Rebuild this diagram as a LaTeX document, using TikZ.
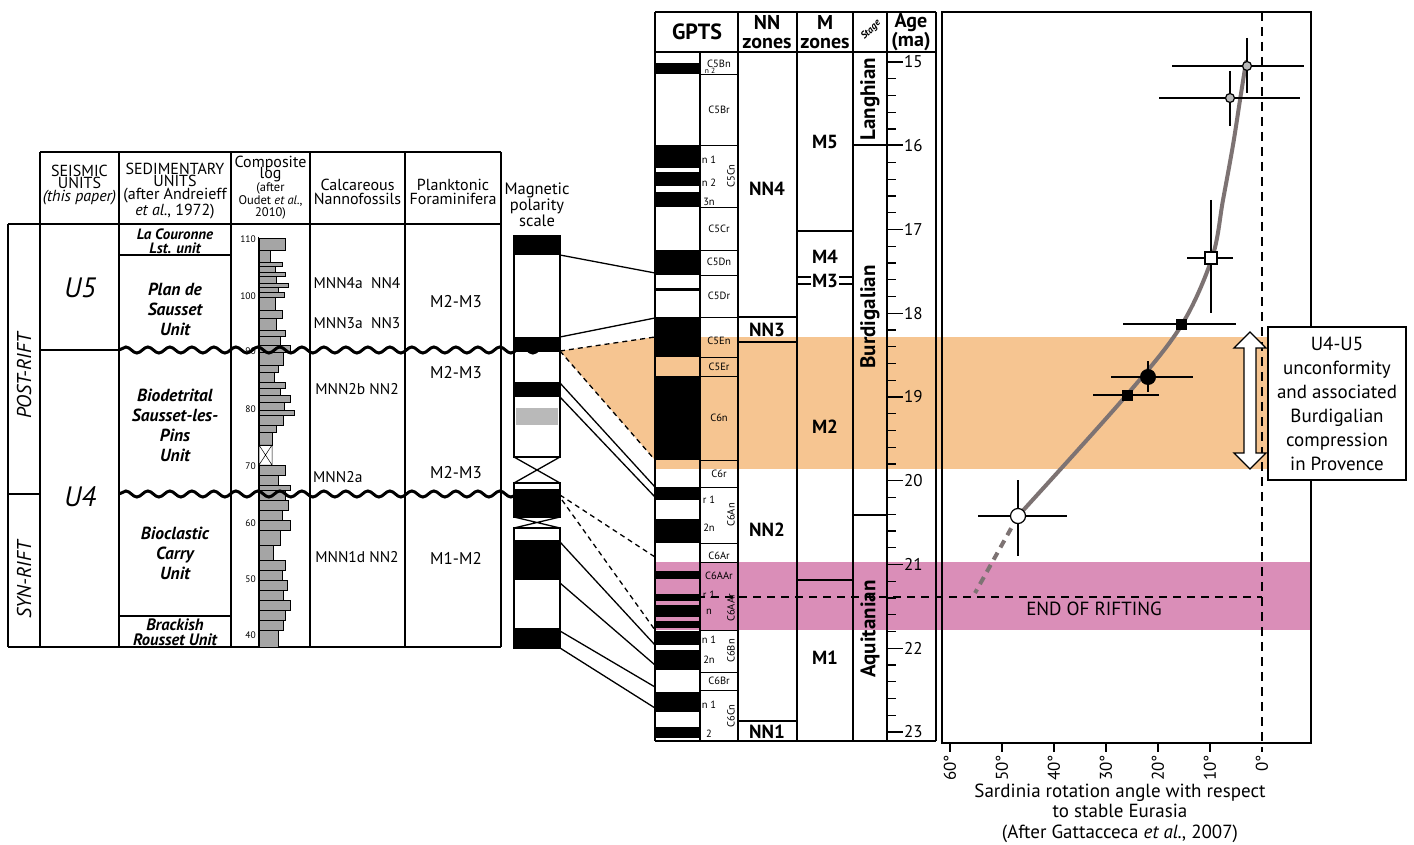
\documentclass[tikz,border=0pt]{standalone}
\usepackage{fontspec}
\setmainfont{PT Sans}
\usetikzlibrary{decorations.pathmorphing}
\definecolor{orng}{RGB}{246,197,145}
\definecolor{pnk}{RGB}{218,142,184}
\definecolor{crv}{RGB}{125,115,115}
\definecolor{loggray}{RGB}{165,165,165}
\begin{document}
\begin{tikzpicture}[x=1pt,y=-1pt,
  ln/.style={line width=1.3pt},
  thinln/.style={line width=0.9pt},
  wavy/.style={line width=3pt, decorate, decoration={snake, segment length=22pt, amplitude=3pt}},
  hdr/.style={font=\fontsize{16}{12.5}\selectfont, align=center, inner sep=0},
  unitx/.style={font=\fontsize{17.5}{20}\selectfont\bfseries\itshape, align=center, inner sep=0},
  bio/.style={font=\fontsize{15.5}{15.5}\selectfont, inner sep=0},
  plk/.style={font=\fontsize{17}{17}\selectfont, inner sep=0},
  zone/.style={font=\fontsize{19}{19}\selectfont\bfseries, inner sep=0},
  zhead/.style={align=center, inner sep=0, font=\fontsize{20}{19}\selectfont\bfseries},
  stg/.style={font=\fontsize{21}{21}\selectfont\bfseries, inner sep=0, rotate=90},
  chron/.style={font=\fontsize{10.5}{10.5}\selectfont, inner sep=0},
  chronr/.style={font=\fontsize{10.5}{10.5}\selectfont, inner sep=0, rotate=90},
  ebar/.style={line width=1.5pt},
  conn/.style={line width=1.3pt},
  dconn/.style={line width=1.3pt, dash pattern=on 5pt off 4pt},
]
\useasboundingbox (0,0) rectangle (1414,845);
\fill[white] (0,0) rectangle (1414,845);

% ---------------- bands ----------------
\fill[orng] (655,337) rectangle (1311,469);
\fill[pnk] (655,562) rectangle (1311,630);
\fill[orng] (560,351) -- (655,337) -- (655,460) -- cycle;
\draw[dconn] (560,351) -- (655,337);
\draw[dconn] (560,351) -- (655,460);

% ---------------- left table ----------------
\draw[ln] (40,152) -- (501,152);
\draw[ln] (8,224) -- (501,224);
\draw[ln] (8,647) -- (501,647);
\draw[ln] (8,224) -- (8,647);
\foreach \x in {40,119,231,310,405,501} \draw[ln] (\x,152) -- (\x,647);
\draw[ln] (8,494) -- (40,494);
\draw[line width=2pt] (40,350) -- (119,350);
\draw[ln] (119,255) -- (231,255);
\draw[ln] (119,616) -- (231,616);

% headers
\node[hdr] (h1) at (79.5,185) {SEISMIC\\UNITS\\\itshape(this paper)};
\node[hdr] (h2) at (175,191) {SEDIMENTARY\\UNITS\\(after Andreieff\\\itshape et al.\upshape, 1972)};
\node[inner sep=0, font=\fontsize{16}{16}\selectfont] (h3a) at (270.5,163) {Composite};
\node[inner sep=0, font=\fontsize{16}{16}\selectfont] (h3b) at (270.5,175) {log};
\node[inner sep=0, font=\fontsize{12.5}{11.5}\selectfont, align=center] (h3c) at (270.5,201) {(after\\Oudet \itshape et al.\upshape,\\2010)};
\node[hdr, font=\fontsize{16}{14}\selectfont] (h4) at (357.5,192) {Calcareous\\Nannofossils};
\node[hdr, font=\fontsize{16}{14}\selectfont] (h5) at (453,192) {Planktonic\\Foraminifera};
\node[hdr, font=\fontsize{16.5}{13}\selectfont] (h6) at (537,205) {Magnetic\\polarity\\scale};

% rift labels
\node[rotate=90, inner sep=0, font=\fontsize{20}{20}\selectfont\itshape] (post) at (24,376) {POST-RIFT};
\node[rotate=90, inner sep=0, font=\fontsize{20}{20}\selectfont\itshape] (syn) at (24,580) {SYN-RIFT};
\node[inner sep=0, font=\fontsize{28}{28}\selectfont\itshape] (u5) at (80,288) {U5};
\node[inner sep=0, font=\fontsize{28}{28}\selectfont\itshape] (u4) at (80,497) {U4};

% sedimentary units
\node[unitx, font=\fontsize{15}{14}\selectfont\bfseries\itshape] (s1) at (175,241) {La Couronne\\Lst. unit};
\node[unitx] (s2) at (175,309) {Plan de\\Sausset\\Unit};
\node[unitx] (s3) at (175,425) {Biodetrital\\Sausset-les-\\Pins\\Unit};
\node[unitx] (s4) at (175,553) {Bioclastic\\Carry\\Unit};
\node[unitx, font=\fontsize{16.5}{15}\selectfont\bfseries\itshape] (s5) at (175,632) {Brackish\\Rousset Unit};

% composite log
\foreach \a/\b/\c in {238/250/285,250/262/270,262/266/282,266/272/275,272/276/285,276/283/276,283/287/288,287/292/278,292/297/284,297/310/275,310/318/282,318/330/276,330/336/285,336/345/280,345/352/290,352/365/283,365/372/278,372/382/274,382/388/285,388/395/280,395/402/290,402/410/284,410/415/294,415/425/283,425/432/276,432/445/272,465/475/285,475/485/278,485/490/290,490/500/285,500/510/288,510/520/282,520/530/290,530/545/280,545/560/273,560/570/285,570/580/282,580/590/287,590/600/283,600/610/290,610/620/285,620/630/283,630/647/278}
  \filldraw[fill=loggray, draw=black, line width=0.5pt] (259,\a) rectangle (\c,\b);
\draw[line width=0.5pt] (259,445) rectangle (272,465) (259,445) -- (272,465) (272,445) -- (259,465);
\draw[line width=1pt] (258,237) -- (258,647);
\foreach \v/\y in {110/239,100/296,90/351,80/409,70/466,60/523,50/579,40/635}
  \node[anchor=east, inner sep=0, font=\fontsize{9.5}{9.5}\selectfont] at (256,\y) {\v};

% biostratigraphy texts
\node[bio] (b1) at (357,283) {MNN4a\ \ NN4};
\node[bio] (b2) at (357,323) {MNN3a\ \ NN3};
\node[bio] (b3) at (357,389) {MNN2b NN2};
\node[bio, anchor=west] (b4) at (313,477) {MNN2a};
\node[bio] (b5) at (357,557) {MNN1d NN2};
\node[plk] (f1) at (456,302) {M2-M3};
\node[plk] (f2) at (456,373) {M2-M3};
\node[plk] (f3) at (456,473) {M2-M3};
\node[plk] (f4) at (456,558) {M1-M2};

% magnetic polarity scale
\foreach \a/\b in {236/255,337/352,382/397,489/517,540/580,628/648}
  \fill (514,\a) rectangle (560,\b);
\fill[gray!55] (516,408) rectangle (558,425);
\draw[ln] (514,236) rectangle (560,457);
\draw[ln] (514,483) rectangle (560,517);
\draw[ln] (514,528) rectangle (560,648);
\draw[ln] (514,457) -- (560,483) (560,457) -- (514,483);
\draw[ln] (514,517) -- (560,528) (560,517) -- (514,528);

% unconformities
\draw[wavy] (119,350) -- (560,350);
\draw[wavy] (119,494) -- (560,494);

% connectors to GPTS
\foreach \a/\b in {255/273,337/318,383/487,397/497,542/645,583/665,631/687,648/708}
  \draw[conn] (560,\a) -- (655,\b);
\draw[dconn] (560,495) -- (655,557);
\draw[dconn] (562,500) -- (655,630);

% ---------------- GPTS block ----------------
\foreach \a/\b in {63/74,145/168,172/186,192/207,250/275,288/291,317/357,376/460,487/500,519/543,571/579,594/601,605/617,621/628,631/645,650/670,692/712,727/738}
  \fill (655,\a) rectangle (700,\b);
\draw[ln] (655,12) -- (936,12);
\draw[ln] (655,52) -- (936,52);
\draw[ln] (655,741) -- (936,741);
\foreach \x in {655,738,797,853,887,936} \draw[ln] (\x,12) -- (\x,741);
\draw[ln] (700,52) -- (700,741);
\foreach \y in {74,145,207,250,275,317,357,376,460,487,543,562,630,672,690}
  \draw[thinln] (700,\y) -- (738,\y);

% chron labels
\node[chron] at (719,64) {C5Bn};
\node[chron, font=\fontsize{7.5}{7.5}\selectfont] at (710,71) {n\ 2};
\node[chron] at (719,110) {C5Br};
\node[chron] at (709,160) {n\ 1};
\node[chron] at (709,183) {n\ 2};
\node[chron] at (709,202) {3n};
\node[chronr] at (731,176) {C5Cn};
\node[chron] at (719,229) {C5Cr};
\node[chron] at (719,262) {C5Dn};
\node[chron] at (719,296) {C5Dr};
\node[chron] at (719,341) {C5En};
\node[chron] at (719,367) {C5Er};
\node[chron] at (719,418) {C6n};
\node[chron] at (719,474) {C6r};
\node[chron] at (709,500) {r\ 1};
\node[chron] at (709,528) {2n};
\node[chronr] at (731,515) {C6An};
\node[chron] at (719,556) {C6Ar};
\node[chron] at (719,576) {C6AAr};
\node[chron] at (709,595) {r\ 1};
\node[chron] at (709,612) {n};
\node[chronr] at (731,608) {C6AAr};
\node[chron] at (709,640) {n\ 1};
\node[chron] at (709,660) {2n};
\node[chronr] at (731,651) {C6Bn};
\node[chron] at (719,681) {C6Br};
\node[chron] at (709,705) {n\ 1};
\node[chron] at (709,734) {2};
\node[chronr] at (731,716) {C6Cn};

% header
\node[zone, font=\fontsize{22}{22}\selectfont\bfseries] (gp) at (697,32) {GPTS};
\node[zhead] (nnh) at (767,32) {NN\\zones};
\node[zhead] (mh) at (825,32) {M\\zones};
\node[rotate=45, inner sep=0, font=\fontsize{10}{10}\selectfont\bfseries\itshape] (sth) at (871,30) {Stage};
\node[zhead] (ageh) at (911,32) {Age\\(ma)};

% NN zones
\draw[ln] (738,317) -- (797,317);
\draw[ln] (738,342) -- (797,342);
\draw[ln] (738,721) -- (797,721);
\node[zone] (nn4) at (767,189) {NN4};
\node[zone] (nn3) at (767,330) {NN3};
\node[zone] (nn2) at (767,530) {NN2};
\node[zone] (nn1) at (767,732) {NN1};

% M zones
\draw[ln] (797,231) -- (853,231);
\draw[ln] (797,277) -- (853,277);
\draw[ln] (797,284) -- (853,284);
\draw[ln] (797,580) -- (853,580);
\node[zone] (m5) at (825,142) {M5};
\node[zone] (m4) at (825,257) {M4};
\node[zone, fill=white, inner sep=1pt] (m3) at (825,281) {M3};
\node[zone] (m2) at (825,427) {M2};
\node[zone] (m1) at (825,658) {M1};

% stages
\draw[line width=2.2pt] (853,145) -- (903,145);
\draw[line width=2.2pt] (853,515) -- (887,515);
\node[stg] (lan) at (870,99) {Langhian};
\node[stg] (bur) at (870,317) {Burdigalian};
\node[stg] (aqu) at (870,629) {Aquitanian};

% age axis
\foreach \i in {0,...,40}{
  \pgfmathsetmacro{\yy}{62+16.75*\i}
  \pgfmathtruncatemacro{\m}{mod(\i,5)}
  \ifnum\m=0 \draw[ln] (887,\yy) -- (903,\yy); \else \draw[ln] (887,\yy) -- (896,\yy); \fi
}
\foreach \a in {15,...,23}{
  \pgfmathsetmacro{\yy}{62+83.75*(\a-15)}
  \node[anchor=west, inner sep=0, font=\fontsize{17}{17}\selectfont] at (904,\yy) {\a};
}

% ---------------- rotation plot ----------------
\draw[ln] (942,12) rectangle (1311,743);
\draw[line width=1.2pt, dash pattern=on 9pt off 6pt] (1262,12) -- (1262,752);
\draw[line width=1.3pt, dash pattern=on 8pt off 6pt] (655,597) -- (1262,597);
\node[inner sep=0, font=\fontsize{19}{19}\selectfont] (eor) at (1094,609) {END OF RIFTING};

\foreach \a in {10,20,...,60}{
  \pgfmathsetmacro{\xx}{1262-5.2*\a}
  \draw[ln] (\xx,743) -- (\xx,752);
}
\foreach \a in {0,10,...,60}{
  \pgfmathsetmacro{\xx}{1262-5.2*\a}
  \node[rotate=90, anchor=east, inner sep=0, font=\fontsize{17}{17}\selectfont] at (\xx,755) {\a°};
}
\node[inner sep=0, align=center, font=\fontsize{19}{20.5}\selectfont] (xt) at (1120,813) {Sardinia rotation angle with respect\\to stable Eurasia\\(After Gattacceca \itshape et al.\upshape, 2007)};

% curve
\draw[crv, line width=4pt, line cap=round] plot[smooth, tension=0.55] coordinates {(1018,516) (1125,397) (1181,326) (1212,258) (1223,200) (1233,145) (1240,100) (1246,62)};
\draw[crv, line width=4pt, dash pattern=on 8pt off 6pt] (1018,516) -- (975,593);

% error bars
\draw[ebar] (1172,66) -- (1304,66) (1247,38) -- (1247,93);
\draw[ebar] (1159,98) -- (1300,98) (1230,71) -- (1230,126);
\draw[ebar] (1187,258) -- (1233,258) (1211,200) -- (1211,313);
\draw[ebar] (1123,324) -- (1236,324);
\draw[ebar] (1111,377) -- (1193,377) (1148,361) -- (1148,392);
\draw[ebar] (1093,395) -- (1159,395);
\draw[ebar] (978,516) -- (1067,516) (1018,480) -- (1018,556);

% markers
\node[circle, draw, fill=gray!55, inner sep=0, minimum size=9pt, line width=1.2pt] (p1) at (1247,66) {};
\node[circle, draw, fill=gray!55, inner sep=0, minimum size=9pt, line width=1.2pt] (p2) at (1230,98) {};
\node[rectangle, draw, fill=white, inner sep=0, minimum size=12pt, line width=1.2pt] (p3) at (1211,258) {};
\node[rectangle, fill=black, inner sep=0, minimum size=11pt] (p4) at (1181,324) {};
\node[circle, fill=black, inner sep=0, minimum size=16pt] (p5) at (1148,377) {};
\node[rectangle, fill=black, inner sep=0, minimum size=11pt] (p6) at (1127,395) {};
\node[circle, draw, fill=white, inner sep=0, minimum size=15pt, line width=1.2pt] (p7) at (1018,516) {};

% double arrow
\filldraw[fill=white, draw=black, line width=1.3pt] (1250,332) -- (1266,348) -- (1256,348) -- (1256,453) -- (1266,453) -- (1250,469) -- (1234,453) -- (1244,453) -- (1244,348) -- (1234,348) -- cycle;

% legend box
\node[draw, fill=white, line width=1.3pt, minimum width=138pt, minimum height=153pt, inner sep=0] (leg) at (1337,403.5) {};
\node[inner sep=0, align=center, font=\fontsize{19}{24}\selectfont] (legt) at (leg.center) {U4-U5\\unconformity\\and associated\\Burdigalian\\compression\\in Provence};
\end{tikzpicture}
\end{document}
